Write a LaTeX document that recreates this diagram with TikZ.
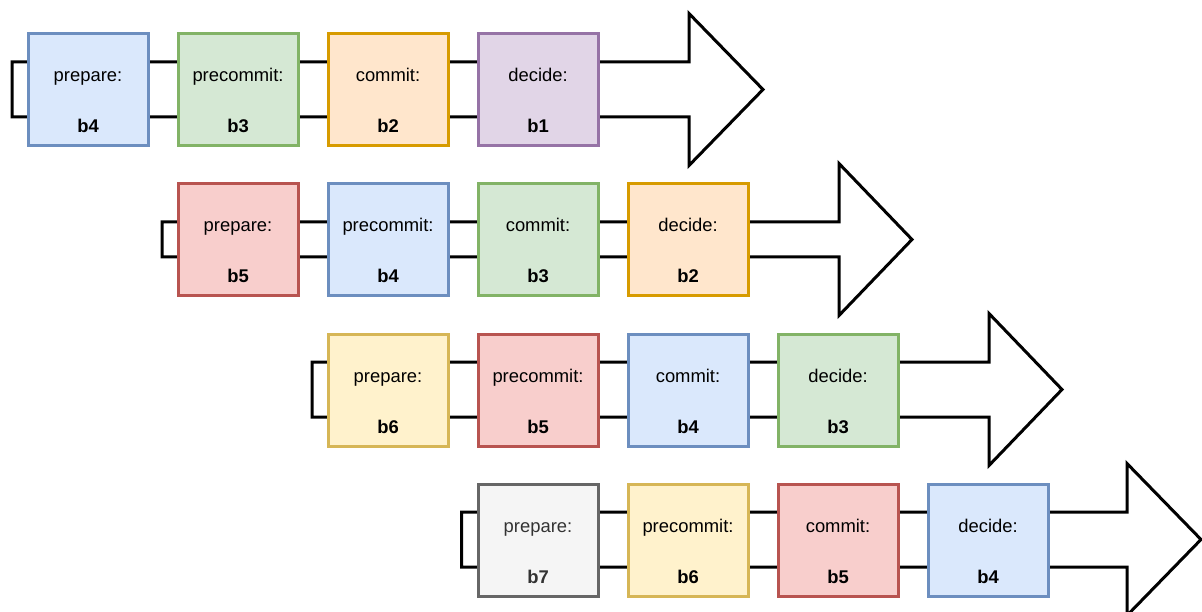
\documentclass[tikz,border=0pt]{standalone}
\usepackage{fontspec}
\setmainfont{Liberation Sans}
\definecolor{fblue}{HTML}{DAE8FC}\definecolor{dblue}{HTML}{6C8EBF}
\definecolor{fgreen}{HTML}{D5E8D4}\definecolor{dgreen}{HTML}{82B366}
\definecolor{forange}{HTML}{FFE6CC}\definecolor{dorange}{HTML}{D79B00}
\definecolor{fpurple}{HTML}{E1D5E7}\definecolor{dpurple}{HTML}{9673A6}
\definecolor{fred}{HTML}{F8CECC}\definecolor{dred}{HTML}{B85450}
\definecolor{fyellow}{HTML}{FFF2CC}\definecolor{dyellow}{HTML}{D6B656}
\definecolor{fgray}{HTML}{F5F5F5}\definecolor{dgray}{HTML}{666666}
\definecolor{tgray}{HTML}{333333}
\begin{document}
\begin{tikzpicture}[x=1pt,y=-1pt,
  box/.style={draw, line width=3pt, minimum width=120pt, minimum height=112pt, inner sep=0pt},
  lab/.style={font=\fontsize{18.4}{22}\selectfont, anchor=base, inner sep=0pt},
  bigarrow/.style={draw=black, fill=white, line width=3pt, line join=miter},
  sblue/.style={fill=fblue, draw=dblue},
  sgreen/.style={fill=fgreen, draw=dgreen},
  sorange/.style={fill=forange, draw=dorange},
  spurple/.style={fill=fpurple, draw=dpurple},
  sred/.style={fill=fred, draw=dred},
  syellow/.style={fill=fyellow, draw=dyellow},
  sgray/.style={fill=fgray, draw=dgray}]
\useasboundingbox (0,0) rectangle (1202,612);
\clip (0,0) rectangle (1202,612);
\foreach \rr/\xo/\yc/\hw/\xh/\xt in {1/12/89.5/27.5/689/763, 2/162/239.5/17.5/839/912, 3/312/389.5/27.5/989/1062, 4/461.5/539.5/27.5/1127/1201}{
  \draw[bigarrow] (\xo,{\yc-\hw}) -- (\xh,{\yc-\hw}) -- (\xh,{\yc-76}) -- (\xt,\yc)
    -- (\xh,{\yc+76}) -- (\xh,{\yc+\hw}) -- (\xo,{\yc+\hw}) -- cycle;
}
\foreach \rr/\cc/\st/\lbl/\bb/\tc in {
  1/1/sblue/prepare/b4/black, 1/2/sgreen/precommit/b3/black, 1/3/sorange/commit/b2/black, 1/4/spurple/decide/b1/black,
  2/1/sred/prepare/b5/black, 2/2/sblue/precommit/b4/black, 2/3/sgreen/commit/b3/black, 2/4/sorange/decide/b2/black,
  3/1/syellow/prepare/b6/black, 3/2/sred/precommit/b5/black, 3/3/sblue/commit/b4/black, 3/4/sgreen/decide/b3/black,
  4/1/sgray/prepare/b7/tgray, 4/2/syellow/precommit/b6/black, 4/3/sred/commit/b5/black, 4/4/sblue/decide/b4/black}{
  \node[box,\st] (n\rr\cc) at ({88+150*(\rr+\cc-2)},{90+150*(\rr-1)}) {};
  \node[lab, text=\tc] (t\rr\cc) at ([yshift=8pt]n\rr\cc.center) {\lbl:};
  \node[lab, text=\tc] (b\rr\cc) at ([yshift=-43pt]n\rr\cc.center) {\textbf{\bb}};
}
\end{tikzpicture}
\end{document}
